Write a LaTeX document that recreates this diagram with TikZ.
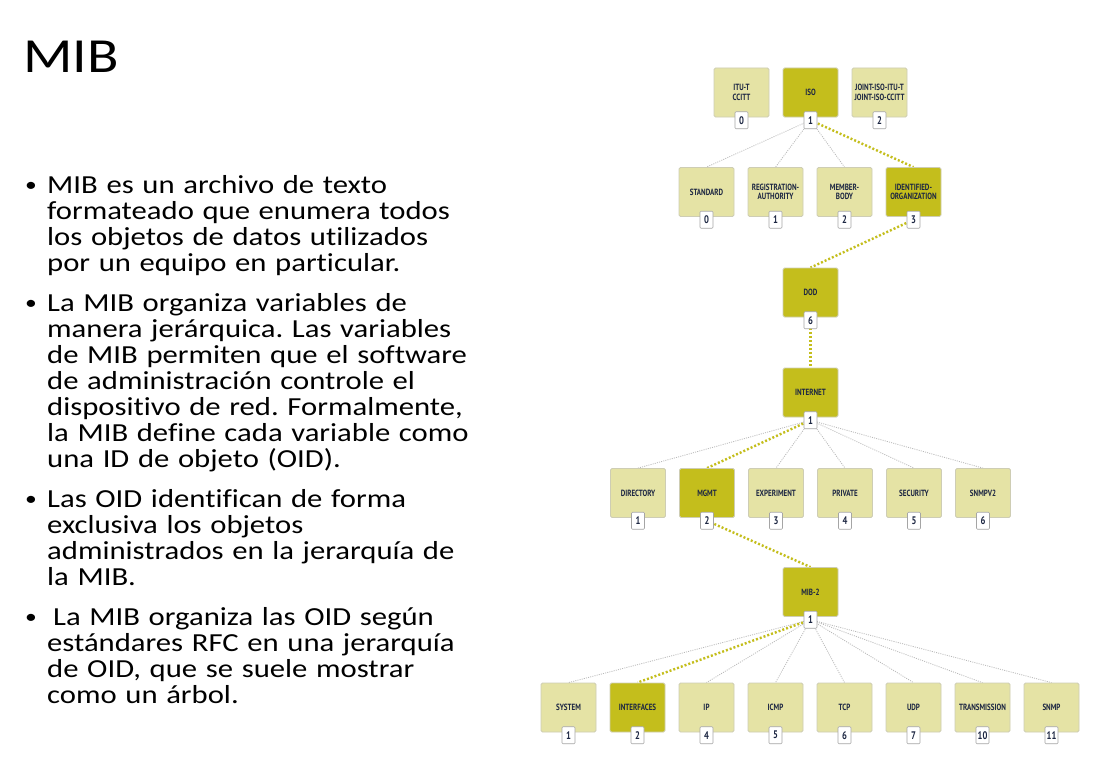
\documentclass[tikz,border=0pt]{standalone}
\usepackage{fontspec}
\setmainfont{Carlito}[FakeStretch=1.18, Ligatures=NoCommon]
\newfontfamily\oidfont{PT Sans}[FakeStretch=0.78]
\usetikzlibrary{positioning}
\pgfdeclarelayer{background}
\pgfsetlayers{background,main}
\frenchspacing

\definecolor{oiddark}{RGB}{196,190,28}
\definecolor{oidlight}{RGB}{229,227,165}
\definecolor{oidedge}{RGB}{206,205,180}
\definecolor{oidtext}{RGB}{28,38,66}
\definecolor{taggray}{RGB}{165,165,165}

\tikzset{
  oidbox/.style={draw=oidedge, line width=0.8pt, fill=oidlight, rounded corners=1.5pt,
    minimum width=55pt, minimum height=49pt, inner sep=1pt, align=center,
    text=oidtext, font=\oidfont\bfseries\fontsize{9}{9.5}\selectfont},
  oidmain/.style={oidbox, fill=oiddark},
  oidtag/.style={draw=taggray, fill=white, line width=0.6pt, rounded corners=1pt,
    minimum width=13pt, minimum height=17pt, inner sep=1.5pt,
    text=oidtext, font=\oidfont\bfseries\fontsize{11}{11}\selectfont},
  branch/.style={draw=gray!55, line width=0.8pt, dash pattern=on 1pt off 1.2pt},
  mainbranch/.style={draw=oiddark, line width=2.4pt, dash pattern=on 2pt off 2pt},
  bullettext/.style={anchor=base west, inner sep=0pt, text width=480pt, align=left,
    font=\fontsize{26}{26}\selectfont},
  bulletdot/.style={anchor=base west, inner sep=0pt, font=\fontsize{20}{20}\selectfont}
}

\begin{document}
\begin{tikzpicture}[x=1pt,y=-1pt]
\useasboundingbox (0,0) rectangle (1098,776);

% title and bullets
\node[anchor=base west, inner sep=0pt, font=\fontsize{49}{49}\selectfont] (title) at (23,73) {MIB};

\node[bulletdot] (dot1) at (25,191) {•};
\node[bullettext] (txt1) at (47,193) {MIB es un archivo de texto\\formateado que enumera todos\\los objetos de datos utilizados\\por un equipo en particular.};
\node[bulletdot] (dot2) at (25,309) {•};
\node[bullettext] (txt2) at (47,311) {La MIB organiza variables de\\manera jerárquica. Las variables\\de MIB permiten que el software\\de administración controle el\\dispositivo de red. Formalmente,\\la MIB define cada variable como\\una ID de objeto (OID).};
\node[bulletdot] (dot3) at (25,505) {•};
\node[bullettext] (txt3) at (47,507) {Las OID identifican de forma\\exclusiva los objetos\\administrados en la jerarquía de\\la MIB.};
\node[bulletdot] (dot4) at (25,623) {•};
\node[bullettext] (txt4) at (47,625) {\hspace{6pt}La MIB organiza las OID según\\estándares RFC en una jerarquía\\de OID, que se suele mostrar\\como un árbol.};

% top level
\node[oidbox] (itu) at (741.5,92.5) {ITU-T\\CCITT};
\node[oidtag, below=-6pt of itu] (itun) {0};
\node[oidmain] (iso) at (810.5,92.5) {ISO};
\node[oidtag, below=-6pt of iso] (ison) {1};
\node[oidbox] (joint) at (879.5,92.5) {JOINT-ISO-ITU-T\\JOINT-ISO-CCITT};
\node[oidtag, below=-6pt of joint] (jointn) {2};

% under iso
\node[oidbox] (std) at (706.5,192) {STANDARD};
\node[oidtag, below=-6pt of std] (stdn) {0};
\node[oidbox] (reg) at (775.5,192) {REGISTRATION-\\AUTHORITY};
\node[oidtag, below=-6pt of reg] (regn) {1};
\node[oidbox] (mem) at (844.5,192) {MEMBER-\\BODY};
\node[oidtag, below=-6pt of mem] (memn) {2};
\node[oidmain] (ident) at (913.5,192) {IDENTIFIED-\\ORGANIZATION};
\node[oidtag, below=-6pt of ident] (identn) {3};

\node[oidmain] (dod) at (810.5,292.5) {DOD};
\node[oidtag, below=-6pt of dod] (dodn) {6};
\node[oidmain] (inet) at (810.5,392.5) {INTERNET};
\node[oidtag, below=-6pt of inet] (inetn) {1};

% under internet
\node[oidbox] (dir) at (638,493) {DIRECTORY};
\node[oidtag, below=-6pt of dir] (dirn) {1};
\node[oidmain] (mgmt) at (707,493) {MGMT};
\node[oidtag, below=-6pt of mgmt] (mgmtn) {2};
\node[oidbox] (exper) at (776,493) {EXPERIMENT};
\node[oidtag, below=-6pt of exper] (expern) {3};
\node[oidbox] (priv) at (845,493) {PRIVATE};
\node[oidtag, below=-6pt of priv] (privn) {4};
\node[oidbox] (sec) at (914,493) {SECURITY};
\node[oidtag, below=-6pt of sec] (secn) {5};
\node[oidbox] (snmpv) at (983,493) {SNMPV2};
\node[oidtag, below=-6pt of snmpv] (snmpvn) {6};

\node[oidmain] (mib) at (810.5,592) {MIB-2};
\node[oidtag, below=-6pt of mib] (mibn) {1};

% under mib-2
\node[oidbox] (sys) at (568.5,707.5) {SYSTEM};
\node[oidtag, below=-6pt of sys] (sysn) {1};
\node[oidmain] (ifc) at (637.5,707.5) {INTERFACES};
\node[oidtag, below=-6pt of ifc] (ifcn) {2};
\node[oidbox] (ip) at (706.5,707.5) {IP};
\node[oidtag, below=-6pt of ip] (ipn) {4};
\node[oidbox] (icmp) at (775.5,707.5) {ICMP};
\node[oidtag, below=-6pt of icmp] (icmpn) {5};
\node[oidbox] (tcp) at (844.5,707.5) {TCP};
\node[oidtag, below=-6pt of tcp] (tcpn) {6};
\node[oidbox] (udp) at (913.5,707.5) {UDP};
\node[oidtag, below=-6pt of udp] (udpn) {7};
\node[oidbox] (trans) at (982.5,707.5) {TRANSMISSION};
\node[oidtag, below=-6pt of trans] (transn) {10};
\node[oidbox] (snmp) at (1051.5,707.5) {SNMP};
\node[oidtag, below=-6pt of snmp] (snmpn) {11};

% connectors behind the boxes
\begin{pgfonlayer}{background}
\fill[white] (0,0) rectangle (1098,776);
\draw[branch] (ison.center) -- (std.north);
\draw[branch] (ison.center) -- (reg.north);
\draw[branch] (ison.center) -- (mem.north);
\draw[mainbranch] (ison.center) -- (ident.north);
\draw[mainbranch] (identn.center) -- (dod.north);
\draw[mainbranch] (dodn.center) -- (inet.north);
\draw[branch] (inetn.center) -- (dir.north);
\draw[mainbranch] (inetn.center) -- (mgmt.north);
\draw[branch] (inetn.center) -- (exper.north);
\draw[branch] (inetn.center) -- (priv.north);
\draw[branch] (inetn.center) -- (sec.north);
\draw[branch] (inetn.center) -- (snmpv.north);
\draw[mainbranch] (mgmtn.center) -- (mib.north);
\draw[branch] (mibn.center) -- (sys.north);
\draw[mainbranch] (mibn.center) -- (ifc.north);
\draw[branch] (mibn.center) -- (ip.north);
\draw[branch] (mibn.center) -- (icmp.north);
\draw[branch] (mibn.center) -- (tcp.north);
\draw[branch] (mibn.center) -- (udp.north);
\draw[branch] (mibn.center) -- (trans.north);
\draw[branch] (mibn.center) -- (snmp.north);
\end{pgfonlayer}
\end{tikzpicture}
\end{document}
